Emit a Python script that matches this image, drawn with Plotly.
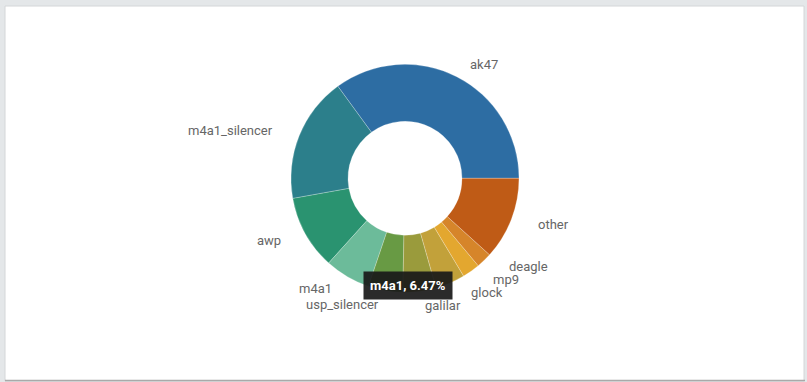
import math
import plotly.graph_objects as go

# ---- data ----
weapons = ["ak47", "m4a1_silencer", "awp", "m4a1", "usp_silencer",
           "galilar", "glock", "mp9", "deagle", "other"]
shares = [35.03, 17.8, 10.5, 6.47, 4.9, 4.7, 4.2, 2.5, 2.2, 11.7]
slice_colors = ["#2d6da3", "#2c7f8b", "#2a9370", "#6cbb9a", "#689a44",
                "#9a9b3c", "#c2a13a", "#e3a72f", "#d6852a", "#bf5b16"]
tooltip_label = "m4a1, 6.47%"

# ---- geometry (pixels) ----
W, H = 807, 382
cx, cy, R = 405, 178.3, 114
label_rx, label_ry = 140, 128
min_gap = 13


def px(x):
    return x / W


def py(y):
    return 1 - y / H


total = sum(shares)
# first slice (ak47) starts at 3 o'clock and runs counter-clockwise
rotation = 90 - 360 * shares[0] / total

fig = go.Figure(go.Pie(
    labels=weapons, values=shares, hole=0.5, sort=False,
    direction="counterclockwise", rotation=rotation,
    marker=dict(colors=slice_colors, line=dict(color="rgba(255,255,255,0.6)", width=0.4)),
    textinfo="none", hoverinfo="label+percent", showlegend=False,
    domain=dict(x=[px(cx - R), px(cx + R)], y=[py(cy + R), py(cy - R)]),
))

# ---- outside labels computed from slice angles ----
cum = 0
labs = []
for name, v in zip(weapons, shares):
    mid = 2 * math.pi * (cum + v / 2) / total
    cum += v
    labs.append([name, mid])


def ypos(a):
    return cy - label_ry * math.sin(a)


def xpos(a):
    return cx + label_rx * math.cos(a)


# spread crowded labels in the lower-right quadrant, bottom-up
right = [l for l in labs if math.cos(l[1]) > 0 and math.sin(l[1]) < 0]
right.sort(key=lambda l: -ypos(l[1]))
for i in range(1, len(right)):
    prev_y = ypos(right[i - 1][1])
    if ypos(right[i][1]) > prev_y - min_gap:
        s = (prev_y - min_gap - cy) / label_ry
        right[i][1] = -math.asin(max(-1, min(1, s)))

annotations = []
for name, a in labs:
    c = math.cos(a)
    anchor = "left" if c > 0.02 else ("right" if c < -0.02 else "center")
    annotations.append(dict(
        x=px(xpos(a)), y=py(ypos(a)), xref="paper", yref="paper", text=name,
        showarrow=False, xanchor=anchor, yanchor="middle",
        font=dict(family="Roboto", size=13, color="#666666"),
    ))

annotations.append(dict(
    x=px(408), y=py(285.8), xref="paper", yref="paper",
    text="<b>" + tooltip_label + "</b>", showarrow=False,
    xanchor="center", yanchor="middle",
    font=dict(family="Roboto", size=13, color="#ffffff"),
    bgcolor="rgba(25,25,25,0.92)", borderpad=6,
))

shapes = [
    dict(type="rect", xref="paper", yref="paper", layer="below",
         x0=px(5), x1=px(804), y0=py(381), y1=py(6),
         fillcolor="#ffffff", line=dict(color="#d4d6d8", width=1)),
    dict(type="line", xref="paper", yref="paper", layer="below",
         x0=px(5), x1=px(805), y0=py(380.5), y1=py(380.5),
         line=dict(color="#a9a9a9", width=1.5)),
]

fig.update_layout(
    width=W, height=H, margin=dict(l=0, r=0, t=0, b=0),
    paper_bgcolor="#e4e7e9", plot_bgcolor="#ffffff",
    annotations=annotations, shapes=shapes,
)

fig.write_html("out.html")
